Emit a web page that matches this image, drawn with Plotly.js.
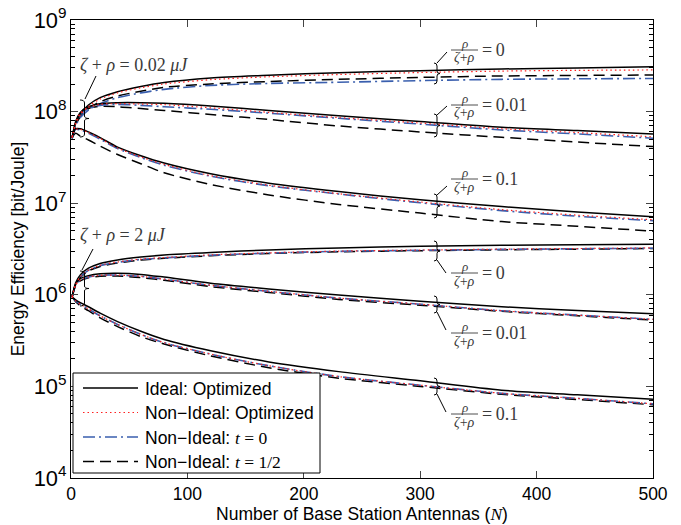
<!DOCTYPE html>
<html>
<head>
<meta charset="utf-8">
<script src="https://cdn.plot.ly/plotly-3.0.1.min.js"></script>
<style>html,body{margin:0;padding:0;background:#fff;}#chart{width:681px;height:525px;}</style>
</head>
<body>
<div id="chart"></div>
<script>
// ---- Data ----
const N = [1, 4, 8, 15, 25, 40, 60, 80, 120, 170, 230, 300, 370, 435, 500];

// zeta+rho = 0.02 uJ, rho/(zeta+rho) = 0
const A0_ideal  = [5.2e7, 7.5e7, 9.5e7, 1.18e8, 1.42e8, 1.65e8, 1.88e8, 2.08e8, 2.33e8, 2.5e8, 2.66e8, 2.8e8, 2.92e8, 3.0e8, 3.09e8];
const A0_nonopt = [5.2e7, 7.3e7, 9.2e7, 1.14e8, 1.37e8, 1.6e8, 1.82e8, 2.0e8, 2.23e8, 2.4e8, 2.54e8, 2.67e8, 2.77e8, 2.82e8, 2.85e8];
const A0_t0     = [5.1e7, 7.0e7, 8.6e7, 1.04e8, 1.22e8, 1.42e8, 1.6e8, 1.75e8, 1.93e8, 2.03e8, 2.09e8, 2.18e8, 2.25e8, 2.28e8, 2.3e8];
const A0_thalf  = [5.1e7, 7.1e7, 8.8e7, 1.08e8, 1.28e8, 1.48e8, 1.67e8, 1.84e8, 2.0e8, 2.13e8, 2.25e8, 2.36e8, 2.45e8, 2.48e8, 2.51e8];
// rho/(zeta+rho) = 0.01
const A1_ideal  = [5.2e7, 7.8e7, 9.8e7, 1.13e8, 1.22e8, 1.25e8, 1.25e8, 1.23e8, 1.15e8, 1.03e8, 9.0e7, 7.8e7, 6.75e7, 6.2e7, 5.7e7];
const A1_nonopt = [5.2e7, 7.6e7, 9.6e7, 1.11e8, 1.2e8, 1.22e8, 1.21e8, 1.19e8, 1.1e8, 9.8e7, 8.6e7, 7.5e7, 6.5e7, 5.9e7, 5.3e7];
const A1_t0     = [5.1e7, 7.4e7, 9.3e7, 1.08e8, 1.17e8, 1.2e8, 1.17e8, 1.13e8, 1.06e8, 9.6e7, 8.45e7, 7.3e7, 6.3e7, 5.7e7, 5.12e7];
const A1_thalf  = [5.1e7, 7.5e7, 9.3e7, 1.08e8, 1.14e8, 1.13e8, 1.08e8, 1.03e8, 9.3e7, 8.2e7, 6.97e7, 6.0e7, 5.24e7, 4.65e7, 4.15e7];
// rho/(zeta+rho) = 0.1
const A2_ideal  = [5.3e7, 6.5e7, 6.5e7, 6.0e7, 5.2e7, 4.1e7, 3.3e7, 2.75e7, 2.1e7, 1.65e7, 1.34e7, 1.09e7, 9.2e6, 8.0e6, 7.1e6];
const A2_nonopt = [5.3e7, 6.4e7, 6.4e7, 5.9e7, 5.1e7, 4.0e7, 3.2e7, 2.65e7, 2.0e7, 1.57e7, 1.27e7, 1.03e7, 8.5e6, 7.4e6, 6.6e6];
const A2_t0     = [5.3e7, 6.4e7, 6.3e7, 5.8e7, 5.0e7, 3.95e7, 3.15e7, 2.6e7, 1.97e7, 1.55e7, 1.26e7, 1.01e7, 8.3e6, 7.2e6, 6.45e6];
const A2_thalf  = [5.2e7, 5.8e7, 5.4e7, 4.9e7, 4.2e7, 3.4e7, 2.7e7, 2.15e7, 1.6e7, 1.23e7, 9.7e6, 7.8e6, 6.3e6, 5.6e6, 4.95e6];

// zeta+rho = 2 uJ, rho/(zeta+rho) = 0
const B0_ideal  = [9.5e5, 1.35e6, 1.65e6, 1.95e6, 2.2e6, 2.4e6, 2.58e6, 2.72e6, 2.9e6, 3.08e6, 3.25e6, 3.38e6, 3.47e6, 3.52e6, 3.56e6];
const B0_nonopt = [9.5e5, 1.3e6, 1.58e6, 1.86e6, 2.1e6, 2.28e6, 2.45e6, 2.55e6, 2.73e6, 2.87e6, 3.0e6, 3.08e6, 3.15e6, 3.2e6, 3.25e6];
const B0_t0     = [9.5e5, 1.3e6, 1.57e6, 1.85e6, 2.08e6, 2.26e6, 2.43e6, 2.53e6, 2.7e6, 2.85e6, 2.98e6, 3.06e6, 3.13e6, 3.18e6, 3.22e6];
const B0_thalf  = [9.5e5, 1.28e6, 1.54e6, 1.82e6, 2.04e6, 2.22e6, 2.4e6, 2.5e6, 2.67e6, 2.82e6, 2.95e6, 3.03e6, 3.1e6, 3.15e6, 3.2e6];
// rho/(zeta+rho) = 0.01
const B1_ideal  = [9.5e5, 1.3e6, 1.5e6, 1.62e6, 1.7e6, 1.72e6, 1.67e6, 1.56e6, 1.34e6, 1.16e6, 9.95e5, 8.5e5, 7.4e5, 6.75e5, 6.2e5];
const B1_nonopt = [9.5e5, 1.27e6, 1.45e6, 1.56e6, 1.63e6, 1.64e6, 1.59e6, 1.48e6, 1.27e6, 1.09e6, 9.2e5, 7.9e5, 6.7e5, 6.0e5, 5.4e5];
const B1_t0     = [9.5e5, 1.27e6, 1.45e6, 1.56e6, 1.63e6, 1.64e6, 1.59e6, 1.48e6, 1.27e6, 1.09e6, 9.2e5, 7.9e5, 6.7e5, 6.0e5, 5.4e5];
const B1_thalf  = [9.5e5, 1.25e6, 1.42e6, 1.53e6, 1.59e6, 1.6e6, 1.54e6, 1.44e6, 1.23e6, 1.06e6, 8.9e5, 7.7e5, 6.6e5, 5.9e5, 5.3e5];
// rho/(zeta+rho) = 0.1
const B2_ideal  = [9.5e5, 8.8e5, 8.2e5, 7.4e5, 6.3e5, 5.1e5, 4.0e5, 3.25e5, 2.45e5, 1.85e5, 1.45e5, 1.15e5, 9.1e4, 8.1e4, 7.25e4];
const B2_nonopt = [9.5e5, 8.6e5, 7.9e5, 7.0e5, 5.9e5, 4.75e5, 3.7e5, 3.0e5, 2.25e5, 1.68e5, 1.28e5, 1.03e5, 8.4e4, 7.4e4, 6.45e4];
const B2_t0     = [9.5e5, 8.6e5, 7.9e5, 7.0e5, 5.9e5, 4.75e5, 3.7e5, 3.0e5, 2.25e5, 1.68e5, 1.28e5, 1.03e5, 8.4e4, 7.4e4, 6.45e4];
const B2_thalf  = [9.5e5, 8.4e5, 7.6e5, 6.7e5, 5.6e5, 4.5e5, 3.5e5, 2.9e5, 2.15e5, 1.6e5, 1.23e5, 1.0e5, 8.2e4, 7.2e4, 6.3e4];

const legendLabels = ['Ideal: Optimized', 'Non\u2212Ideal: Optimized',
  'Non\u2212Ideal: <span style="font-family:Liberation Serif"><i>t</i> = 0</span>',
  'Non\u2212Ideal: <span style="font-family:Liberation Serif"><i>t</i> = 1/2</span>'];
const ratioLabels = ['0', '0.01', '0.1'];
const energyLabels = ['0.02', '2'];

// ---- Styles ----
const styles = {
  ideal:  {color: '#000000', width: 1.5, dash: 'solid'},
  nonopt: {color: '#ff2020', width: 1.2, dash: '1.5px,3px'},
  t0:     {color: '#3a5fae', width: 1.6, dash: '12px,4px,2px,4px'},
  thalf:  {color: '#000000', width: 1.5, dash: '11px,6px'}
};

const groups = [
  [A0_ideal, A0_nonopt, A0_t0, A0_thalf],
  [A1_ideal, A1_nonopt, A1_t0, A1_thalf],
  [A2_ideal, A2_nonopt, A2_t0, A2_thalf],
  [B0_ideal, B0_nonopt, B0_t0, B0_thalf],
  [B1_ideal, B1_nonopt, B1_t0, B1_thalf],
  [B2_ideal, B2_nonopt, B2_t0, B2_thalf]
];
const keys = ['ideal', 'nonopt', 't0', 'thalf'];
const drawOrder = [3, 2, 0, 1];

const traces = [];
drawOrder.forEach(k => {
  groups.forEach(g => {
    const s = styles[keys[k]];
    traces.push({
      x: N, y: g[k], type: 'scatter', mode: 'lines', showlegend: false,
      hoverinfo: 'skip',
      line: {color: s.color, width: s.width, dash: s.dash, shape: 'spline', smoothing: 0.8}
    });
  });
});

// ---- Pixel -> paper helpers for decorations ----
const L = 71, R = 653, T = 20, B = 478;
const P = x => (x - L) / (R - L);
const Q = y => (B - y) / (B - T);

function brace(xl, y0, y1, w) {
  const ym = (y0 + y1) / 2, xm = xl + w / 2, xr = xl + w;
  const pt = (x, y) => P(x).toFixed(5) + ',' + Q(y).toFixed(5);
  return 'M' + pt(xl, y0) + ' Q' + pt(xm, y0) + ' ' + pt(xm, y0 + 3) +
         ' L' + pt(xm, ym - 2.5) + ' Q' + pt(xm, ym) + ' ' + pt(xr, ym) +
         ' Q' + pt(xm, ym) + ' ' + pt(xm, ym + 2.5) +
         ' L' + pt(xm, y1 - 3) + ' Q' + pt(xm, y1) + ' ' + pt(xl, y1);
}

const shapes = [];
const annotations = [];
const mathColor = '#3a3a3a';
const serif = 'Liberation Serif, DejaVu Serif, serif';

function line(x0, y0, x1, y1, extra) {
  shapes.push(Object.assign({type: 'line', xref: 'paper', yref: 'paper',
    x0: P(x0), y0: Q(y0), x1: P(x1), y1: Q(y1), layer: 'above',
    line: {color: '#000', width: 1}}, extra || {}));
}
function text(x, y, t, size, xanchor, color, font) {
  annotations.push({xref: 'paper', yref: 'paper', x: P(x), y: Q(y), text: t,
    showarrow: false, xanchor: xanchor || 'left', yanchor: 'middle', borderpad: 0,
    font: {family: font || serif, size: size, color: color || mathColor}});
}

// Right-hand ratio annotations
const ratioSpecs = [
  {bt: 63, bb: 84, lx0: 437, ly0: 63, lx1: 447, ly1: 52, bar: 50, lab: 0},
  {bt: 114, bb: 137, lx0: 437, ly0: 115, lx1: 447, ly1: 106, bar: 105, lab: 1},
  {bt: 194, bb: 218, lx0: 437, ly0: 195, lx1: 447, ly1: 186, bar: 179, lab: 2},
  {bt: 241, bb: 261, lx0: 437, ly0: 260, lx1: 446, ly1: 273, bar: 273, lab: 0},
  {bt: 296, bb: 313, lx0: 437, ly0: 312, lx1: 446, ly1: 330, bar: 333, lab: 1},
  {bt: 378, bb: 395, lx0: 437, ly0: 394, lx1: 446, ly1: 412, bar: 414, lab: 2}
];
ratioSpecs.forEach(r => {
  shapes.push({type: 'path', xref: 'paper', yref: 'paper', path: brace(434, r.bt, r.bb, 6),
    layer: 'above', line: {color: '#000', width: 1}});
  line(r.lx0, r.ly0, r.lx1, r.ly1);
  line(451, r.bar, 478, r.bar, {line: {color: mathColor, width: 0.9}});
  text(464.5, r.bar - 6.5, '<i>ρ</i>', 13, 'center');
  text(464.5, r.bar + 8, '<i>ζ</i>+<i>ρ</i>', 14, 'center');
  text(481, r.bar, '=\u2009' + ratioLabels[r.lab], 18, 'left');
});

// Left-hand energy annotations
text(79, 65, '<i>ζ</i> + <i>ρ</i> = ' + energyLabels[0] + ' <i>μJ</i>', 18, 'left');
line(96, 76, 85, 99);
shapes.push({type: 'path', xref: 'paper', yref: 'paper', path: brace(80, 100, 137, 9),
  layer: 'above', line: {color: '#000', width: 1}});
text(79, 235, '<i>ζ</i> + <i>ρ</i> = ' + energyLabels[1] + ' <i>μJ</i>', 18, 'left');
line(93, 249, 82, 270);
shapes.push({type: 'path', xref: 'paper', yref: 'paper', path: brace(80, 271, 306, 9),
  layer: 'above', line: {color: '#000', width: 1}});

// Custom legend
shapes.push({type: 'rect', xref: 'paper', yref: 'paper', x0: P(73), y0: Q(373), x1: P(320), y1: Q(473),
  layer: 'above', fillcolor: '#fff', line: {color: '#000', width: 1}});
const legY = [388, 412.5, 437, 461.5];
keys.forEach((k, i) => {
  const s = styles[k];
  line(83, legY[i], 138, legY[i], {line: {color: s.color, width: s.width, dash: s.dash}});
  text(144, legY[i] + 0.5, legendLabels[i], 17.5, 'left', '#000', 'Liberation Sans, Arial, sans-serif');
});

const axisFont = {family: 'Liberation Sans, Arial, sans-serif', size: 17.5, color: '#000'};

const layout = {
  width: 681, height: 525,
  margin: {l: L, r: 681 - R, t: T, b: 525 - B},
  paper_bgcolor: '#fff', plot_bgcolor: '#fff',
  showlegend: false,
  xaxis: {
    range: [0, 500], tickvals: [0, 100, 200, 300, 400, 500], ticks: 'inside', ticklen: 7,
    showline: true, linecolor: '#000', linewidth: 1, mirror: 'ticks', showgrid: false, zeroline: false,
    tickfont: axisFont,
    title: {text: 'Number of Base Station Antennas (<span style="font-family:Liberation Serif"><i>N</i></span>)',
            font: axisFont, standoff: 2}
  },
  yaxis: {
    type: 'log', range: [4, 9], dtick: 1, exponentformat: 'power', showexponent: 'all',
    ticks: 'inside', ticklen: 7, showline: true, linecolor: '#000', linewidth: 1, mirror: 'ticks',
    showgrid: false, zeroline: false, tickfont: axisFont,
    minor: {ticks: 'inside', ticklen: 4, tickcolor: '#000', showgrid: false},
    title: {text: 'Energy Efficiency [bit/Joule]', font: axisFont, standoff: 4}
  },
  shapes: shapes,
  annotations: annotations
};

Plotly.newPlot('chart', traces, layout, {displayModeBar: false, staticPlot: true});
</script>
</body>
</html>
